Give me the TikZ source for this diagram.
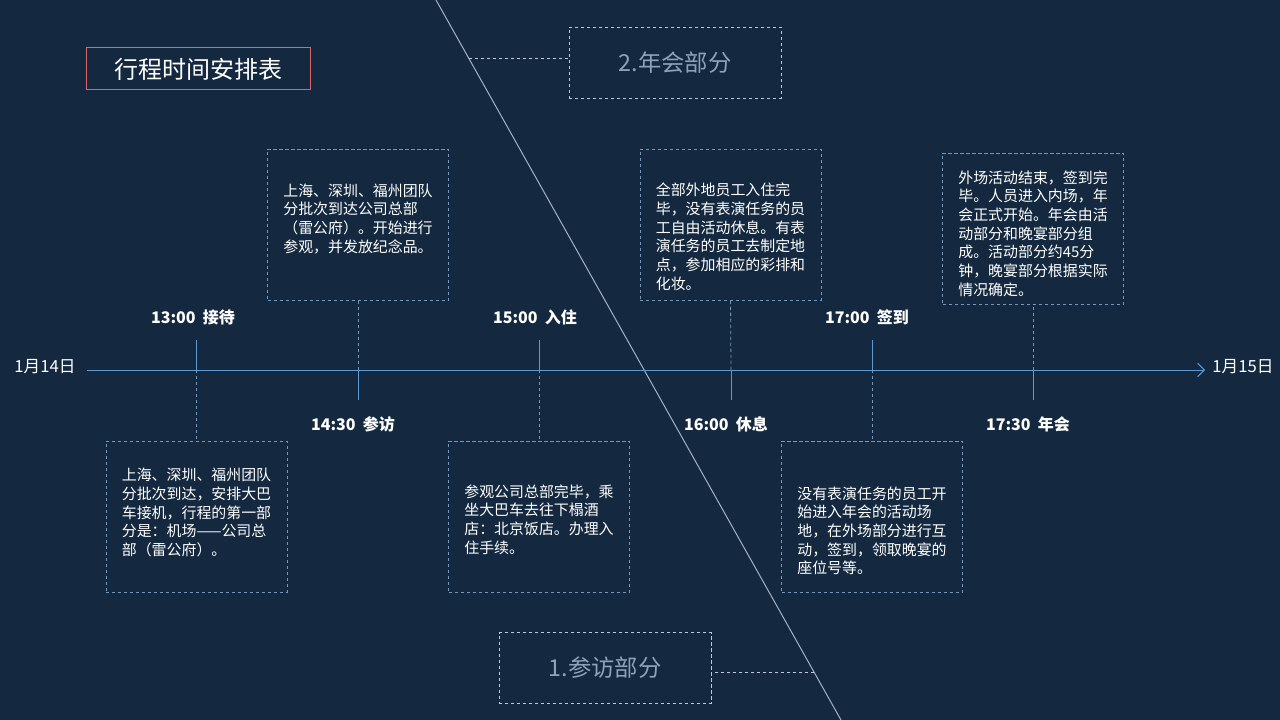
\documentclass[tikz,border=0pt]{standalone}
\usepackage{fontspec}
\setmainfont{Noto Sans CJK SC}
\usetikzlibrary{arrows.meta}
\definecolor{bgnavy}{HTML}{14293F}
\definecolor{axisblue}{HTML}{5B9BD5}
\definecolor{boxline}{HTML}{7497BC}
\definecolor{partline}{HTML}{BFCAD6}
\definecolor{parttext}{HTML}{8FA3B8}
\definecolor{slashline}{HTML}{A3B2C4}
\definecolor{titlered}{HTML}{D9686E}
\begin{document}
\begin{tikzpicture}[x=0.75pt,y=-0.75pt,
    evbox/.style={draw=boxline,line width=0.6pt,dash pattern=on 2.5pt off 2pt,
      minimum width=135.75pt,minimum height=113.25pt,inner sep=0pt,
      align=left,text=white,font=\fontsize{11.2}{14}\selectfont},
    partbox/.style={draw=partline,line width=0.6pt,dash pattern=on 2.5pt off 2pt,
      minimum width=159pt,minimum height=53.25pt,text=parttext,
      font=\fontsize{17.5}{20}\selectfont},
    tlabel/.style={text=white,font=\fontsize{12}{14}\selectfont\bfseries},
    dlabel/.style={text=white,font=\fontsize{12.5}{14}\selectfont},
    tick/.style={axisblue,line width=0.6pt},
    link/.style={boxline,line width=0.6pt,dash pattern=on 2.5pt off 2pt}]
    \fill [bgnavy] (0,0) rectangle (1280,720);
    \useasboundingbox (0,0) rectangle (1280,720);
    \coordinate (s0) at (436,0);
    \coordinate (s1) at (841,720);
    \draw [slashline,line width=0.75pt] (s0) -- (s1);
    \node [draw=titlered,line width=0.75pt,minimum width=168pt,minimum height=31.5pt,text=white,font=\fontsize{18}{20}\selectfont] (title) at (198,69) {行程时间安排表};
    \node [partbox] (p2) at (675,62.5) {2.年会部分};
    \node [partbox] (p1) at (605,668) {1.参访部分};
    \coordinate (c2) at (468.6,58);
    \coordinate (c1) at (814,672);
    \draw [link,partline] (c2) -- (c2 -| p2.west);
    \draw [link,partline] (c1) -- (c1 -| p1.east);
    \coordinate (a0) at (87,370);
    \coordinate (a1) at (1205,370);
    \draw [axisblue,line width=0.75pt,-{Straight Barb[length=5pt,width=10pt]}] (a0) -- (a1);
    \node [dlabel] (day1) at (45,367) {1月14日};
    \node [dlabel] (day2) at (1243,367) {1月15日};
    \coordinate (t1) at (196.5,370);
    \coordinate (t2) at (358,370);
    \coordinate (t3) at (539,370);
    \coordinate (t4) at (731,370);
    \coordinate (t5) at (872,370);
    \coordinate (t6) at (1033,370);
    \draw [tick] (t1) -- ++(0,-30);
    \draw [tick] (t2) -- ++(0,30);
    \draw [tick] (t3) -- ++(0,-30);
    \draw [tick] (t4) -- ++(0,30);
    \draw [tick] (t5) -- ++(0,-30);
    \draw [tick] (t6) -- ++(0,30);
    \node [tlabel] (l1) at (193,317) {13:00\ \ 接待};
    \node [tlabel] (l2) at (353,424) {14:30\ \ 参访};
    \node [tlabel] (l3) at (535,317) {15:00\ \ 入住};
    \node [tlabel] (l4) at (726,424) {16:00\ \ 休息};
    \node [tlabel] (l5) at (867,317) {17:00\ \ 签到};
    \node [tlabel] (l6) at (1028,424) {17:30\ \ 年会};
    \node [evbox] (b1) at (196.5,516.5) {\rule{0pt}{4pt}上海、深圳、福州团队\\分批次到达，安排大巴\\车接机，行程的第一部\\分是：机场——公司总\\部（雷公府）。\rule[-7pt]{0pt}{0pt}};
    \node [evbox] (b2) at (358,224.5) {上海、深圳、福州团队\\分批次到达公司总部\\（雷公府）。开始进行\\参观，并发放纪念品。\rule[-10pt]{0pt}{0pt}};
    \node [evbox] (b3) at (539,516.5) {\rule{0pt}{14pt}参观公司总部完毕，乘\\坐大巴车去往下榻酒\\店：北京饭店。办理入\\住手续。};
    \node [evbox] (b4) at (730.5,224.5) {\rule{0pt}{28pt}全部外地员工入住完\\毕，没有表演任务的员\\工自由活动休息。有表\\演任务的员工去制定地\\点，参加相应的彩排和\\化妆。};
    \node [evbox] (b5) at (872,516.5) {\rule{0pt}{31pt}没有表演任务的员工开\\始进入年会的活动场\\地，在外场部分进行互\\动，签到，领取晚宴的\\座位号等。};
    \node [evbox] (b6) at (1033,228.5) {\rule{0pt}{17pt}外场活动结束，签到完\\毕。人员进入内场，年\\会正式开始。年会由活\\动部分和晚宴部分组\\成。活动部分约45分\\钟，晚宴部分根据实际\\情况确定。};
    \draw [link] (t1) -- (b1.north);
    \draw [link] (t2) -- (b2.south);
    \draw [link] (t3) -- (b3.north);
    \draw [link] (t4) -- (b4.south);
    \draw [link] (t5) -- (b5.north);
    \draw [link] (t6) -- (b6.south);
\end{tikzpicture}
\end{document}
